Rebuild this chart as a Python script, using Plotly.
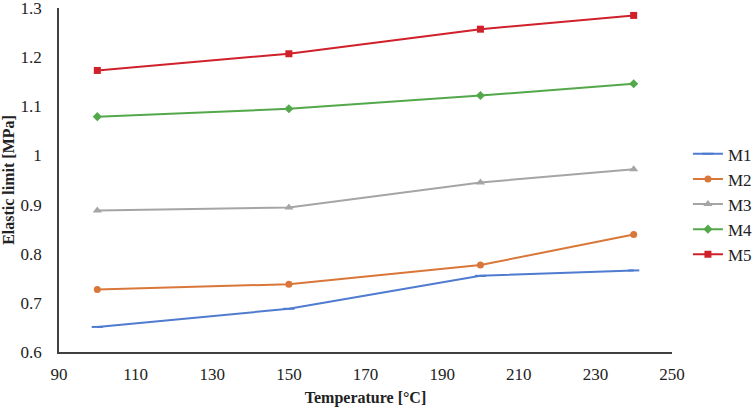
import plotly.graph_objects as go

temperature = [100, 150, 200, 240]
m1 = [0.651, 0.688, 0.755, 0.766]
m2 = [0.727, 0.738, 0.777, 0.839]
m3 = [0.888, 0.894, 0.945, 0.972]
m4 = [1.079, 1.095, 1.122, 1.146]
m5 = [1.173, 1.207, 1.257, 1.285]
series_names = ["M1", "M2", "M3", "M4", "M5"]
x_ticks = [90, 110, 130, 150, 170, 190, 210, 230, 250]
y_ticks = [0.6, 0.7, 0.8, 0.9, 1.0, 1.1, 1.2, 1.3]
y_tick_labels = ["0.6", "0.7", "0.8", "0.9", "1", "1.1", "1.2", "1.3"]

colors = ["#4F7BD0", "#D9773A", "#A5A5A5", "#53A84A", "#D0202A"]
symbols = ["line-ew-open", "circle", "triangle-up", "diamond", "square"]
sizes = [8, 7, 8, 7, 7]

fig = go.Figure()
for name, vals, c, s, sz in zip(series_names, [m1, m2, m3, m4, m5], colors, symbols, sizes):
    fig.add_trace(go.Scatter(
        x=temperature, y=vals, name=name, mode="lines+markers",
        line=dict(color=c, width=2),
        marker=dict(symbol=s, size=sz, color=c, line=dict(color=c, width=2 if s == "line-ew-open" else 0)),
    ))

font_family = "Times New Roman, Liberation Serif, serif"
fig.update_layout(
    width=754, height=411,
    margin=dict(l=59, r=82, t=8, b=59, autoexpand=False),
    paper_bgcolor="white", plot_bgcolor="white",
    font=dict(family=font_family, size=17, color="#222222"),
    showlegend=True,
    legend=dict(x=1.026, y=0.627, xanchor="left", yanchor="top",
                font=dict(size=17, family=font_family), tracegroupgap=0,
                itemwidth=30, borderwidth=0),
)
fig.update_xaxes(
    range=[90, 250], tickvals=x_ticks, showgrid=False, zeroline=False,
    showline=True, linecolor="#404040", linewidth=1.5, automargin=False,
    ticks="", ticklabelstandoff=6, ticklabeloverflow="allow",
    title=dict(text="<b>Temperature [°C]</b>", font=dict(size=16, family=font_family), standoff=9),
)
fig.update_yaxes(
    range=[0.6, 1.3001], tickvals=y_ticks, ticktext=y_tick_labels, showgrid=False, zeroline=False,
    showline=True, linecolor="#404040", linewidth=1.5, automargin=False,
    ticks="", ticklabelstandoff=12, ticklabeloverflow="allow",
    title=dict(text="<b>Elastic limit [MPa]</b>", font=dict(size=16, family=font_family), standoff=2),
)

fig.write_html("out.html", config={"displayModeBar": False},
               post_script="document.body.style.margin='0';")
